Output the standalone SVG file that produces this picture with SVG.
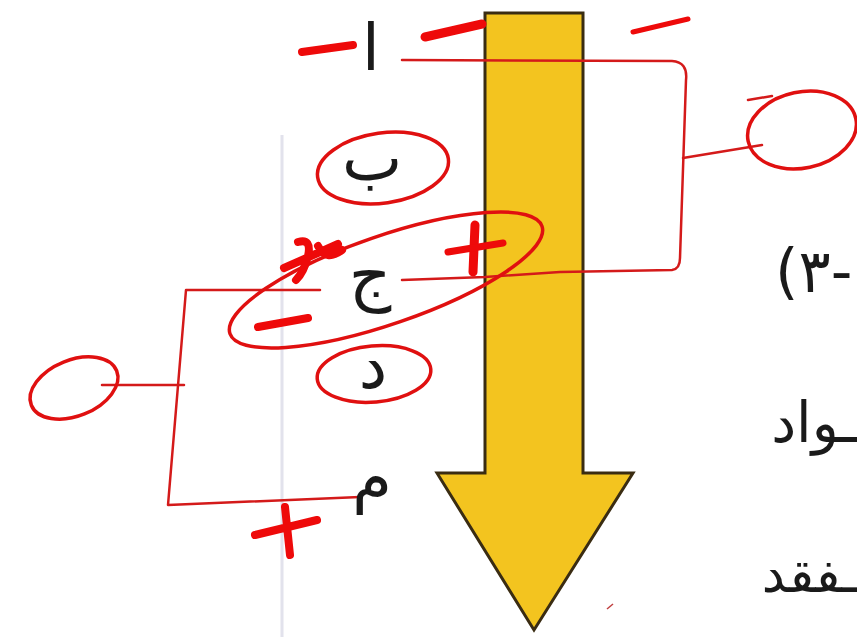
<svg xmlns="http://www.w3.org/2000/svg" width="857" height="637" viewBox="0 0 857 637">
<style>
.ar{font-family:"DejaVu Sans","Noto Sans",sans-serif;fill:#1a1a1a}
.w{fill:none;stroke:#d41a1a;stroke-width:2.5;stroke-linecap:round;stroke-linejoin:round}
.o{fill:none;stroke:#e01010;stroke-width:3.5}
.m{fill:none;stroke:#ee0a0a;stroke-linecap:round;stroke-linejoin:round}
</style>
<rect width="857" height="637" fill="#ffffff"/>
<line x1="282" y1="135" x2="282" y2="637" stroke="#e2e2ec" stroke-width="3"/>

<g id="arrow">
<path d="M485,13 L583,13 L583,473 L633,473 L534,630 L437,473 L485,473 Z" fill="#f3c41f" stroke="#3a2c12" stroke-width="3" stroke-linejoin="miter"/>
</g>

<g id="connectors">
<path class="w" d="M402,280 L485,277 L560,272 L672,270 Q680,269 680,258 L686,80 Q688,62 672,61 L402,60"/>
<path class="w" d="M683,158 L762,145"/>
<path class="w" d="M320,290 L186,290 L168,505 L360,497"/>
<path class="w" d="M102,385 L184,385"/>
</g>

<g id="letters">
<text class="ar" x="371" y="70" font-size="64" text-anchor="middle">ا</text>
<text class="ar" x="372" y="180" font-size="64" text-anchor="middle">ب</text>
<text class="ar" x="370" y="298" font-size="66" text-anchor="middle">ج</text>
<text class="ar" x="373" y="388" font-size="64" text-anchor="middle">د</text>
<text class="ar" x="372" y="500" font-size="64" text-anchor="middle">م</text>
</g>

<g id="right-text">
<text class="ar" x="775" y="292" font-size="60" unicode-bidi="bidi-override" direction="ltr">(٣-</text>
<text class="ar" x="857" y="442" font-size="56" text-anchor="end">ـواد</text>
<text class="ar" x="857" y="592" font-size="52" text-anchor="end">ـفقد</text>
</g>

<g id="circle-right">
<ellipse class="o" cx="802" cy="130" rx="55" ry="38" transform="rotate(-12 802 130)"/>
<path class="w" d="M748,100 L772,96"/>
</g>
<g id="circle-left">
<ellipse class="o" cx="74" cy="388" rx="46" ry="28" transform="rotate(-22 74 388)"/>
</g>
<g id="ring-b"><ellipse class="o" cx="383" cy="168" rx="66" ry="35" transform="rotate(-8 383 168)"/></g>
<g id="ring-d"><ellipse class="o" cx="374" cy="374" rx="57" ry="28" transform="rotate(-5 374 374)"/></g>
<g id="ring-j"><ellipse class="o" cx="386" cy="280" rx="165" ry="44" stroke-width="5" transform="rotate(-19 386 280)"/></g>

<g id="marks">
<path class="m" stroke-width="8" d="M302,52 L353,45"/>
<path class="m" stroke-width="9" d="M425,37 L482,24"/>
<path class="m" stroke-width="5" d="M633,32 L688,19"/>
<path class="m" stroke-width="9" d="M475,225 L473,272"/>
<path class="m" stroke-width="7" d="M448,252 L503,243"/>
<path class="m" stroke-width="8" d="M258,327 L308,318"/>
<path class="m" stroke-width="8" d="M284,268 L338,244 M298,242 Q312,238 308,256 Q304,272 296,280 M318,246 Q326,262 342,250"/>
<path class="m" stroke-width="8" d="M255,535 L317,520 M285,507 L290,555"/>
<path fill="none" stroke="#c04040" stroke-width="1.5" d="M607,609 L613,604"/>
</g>
</svg>
